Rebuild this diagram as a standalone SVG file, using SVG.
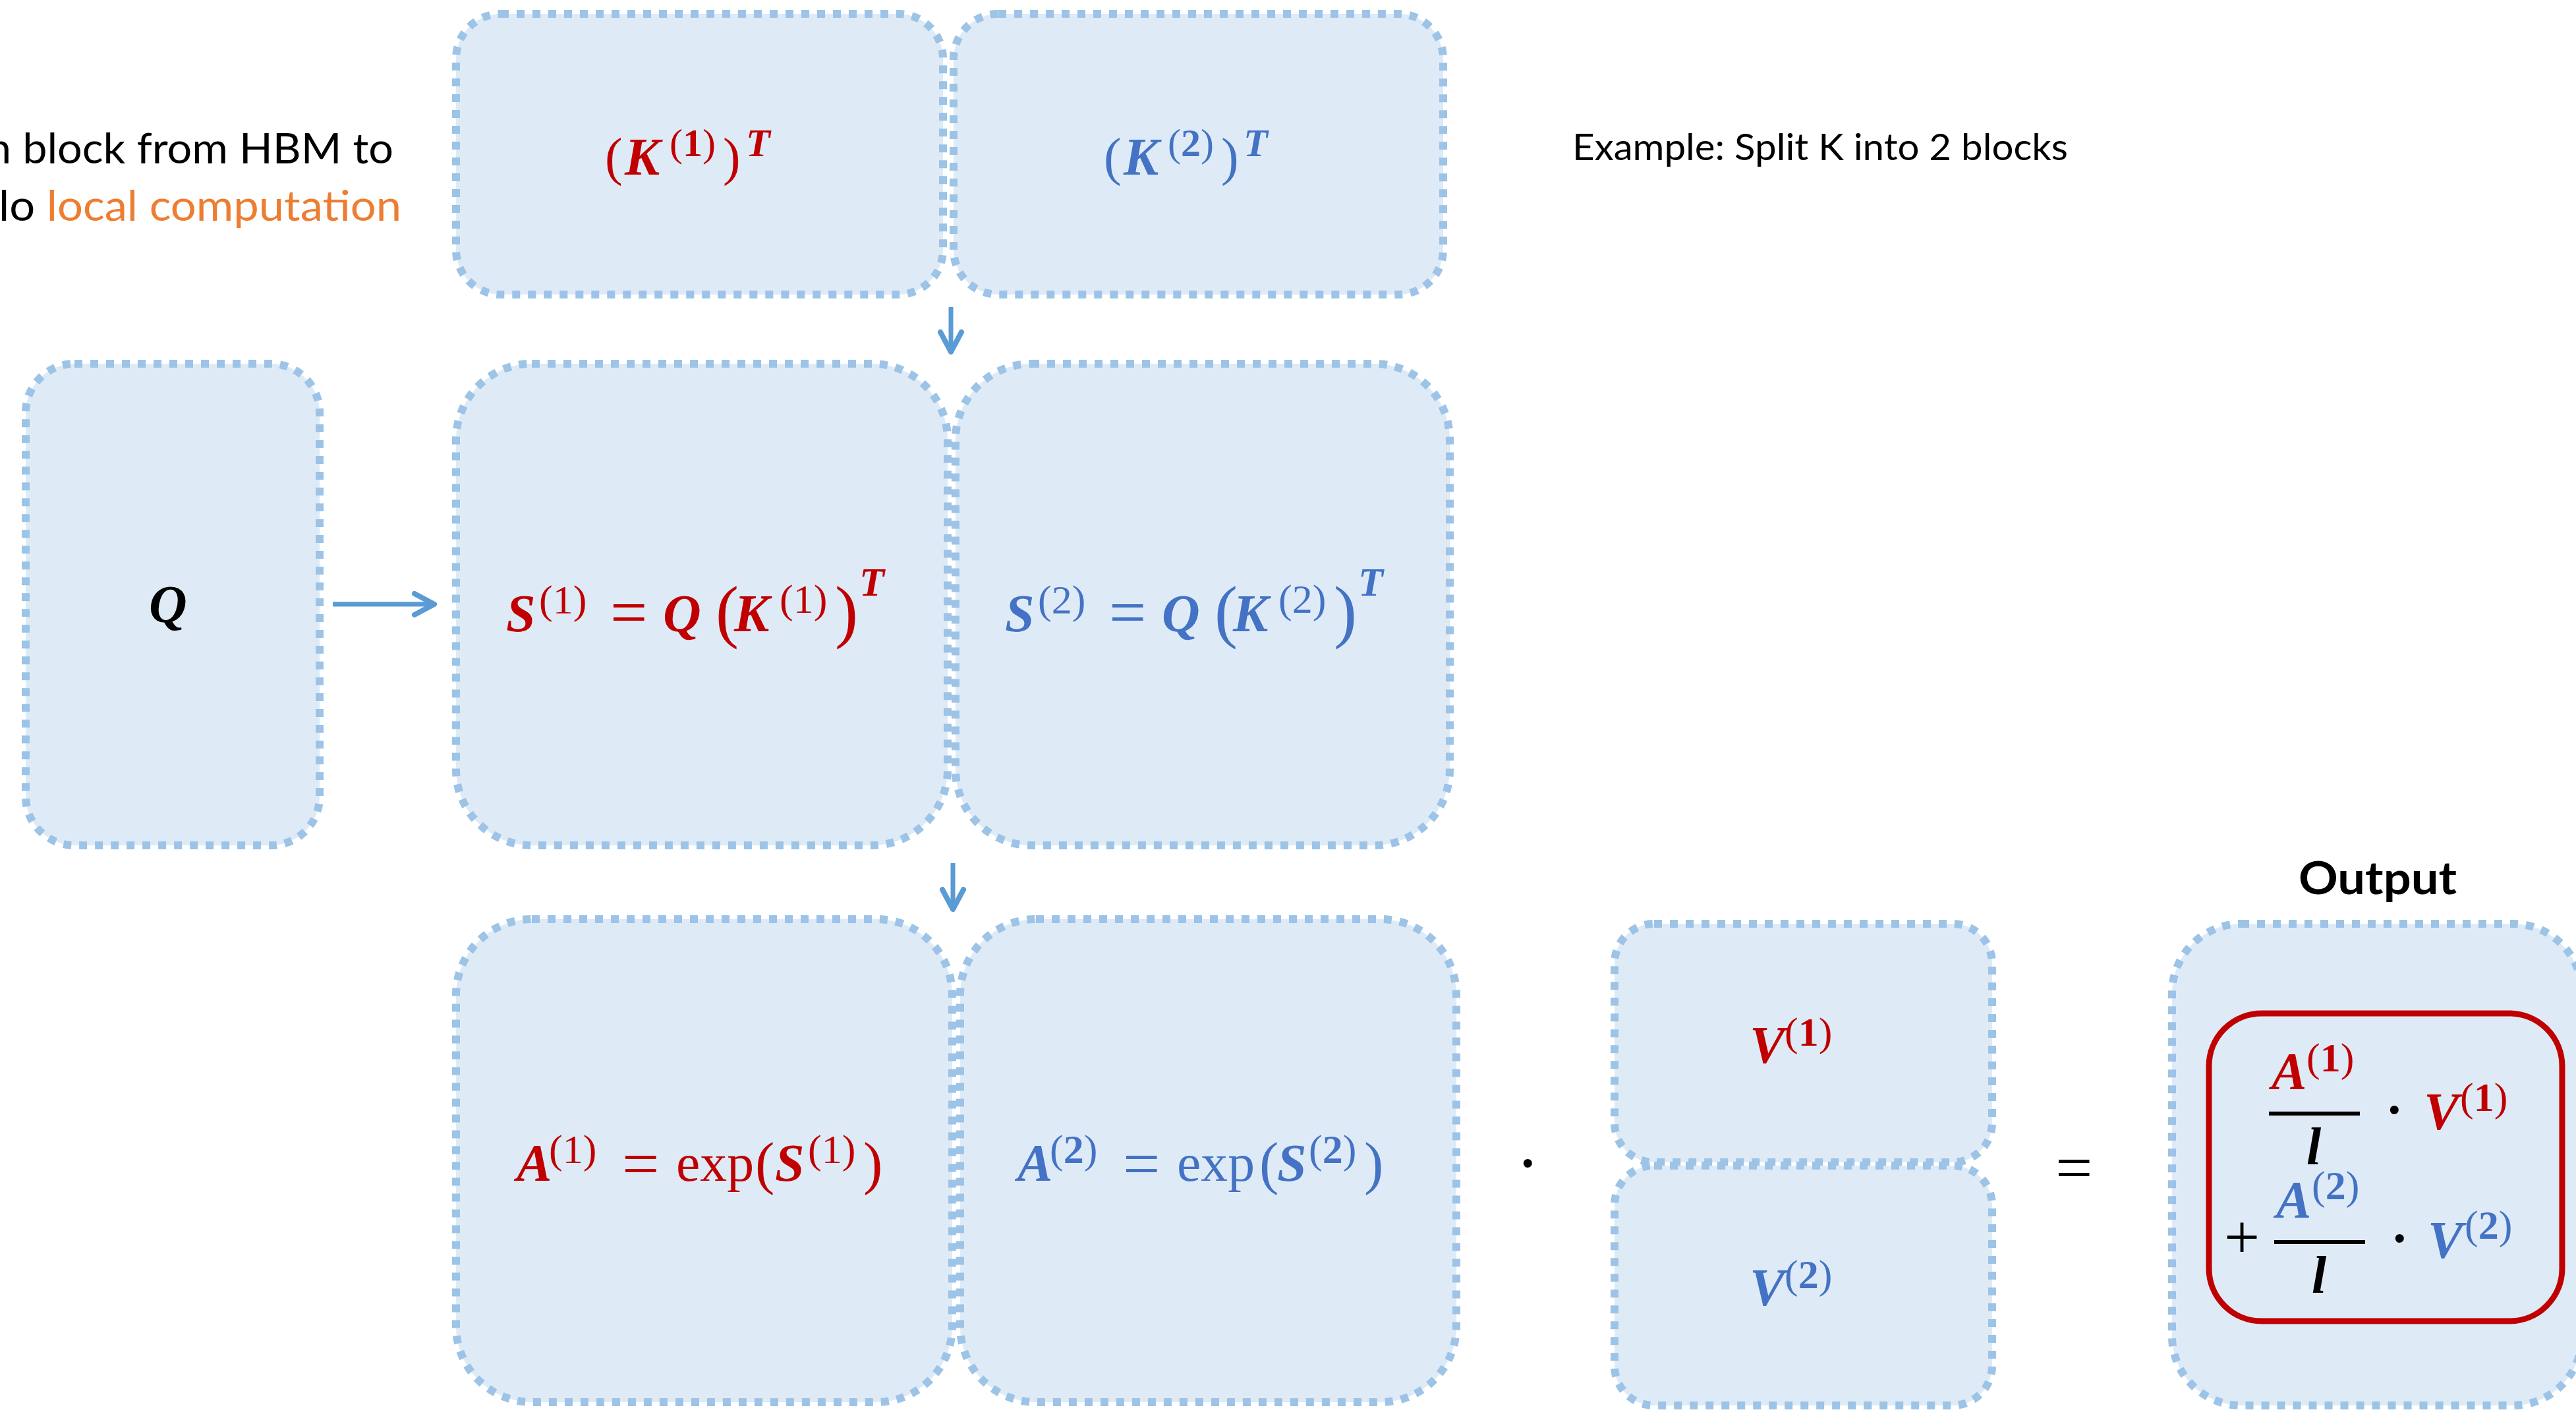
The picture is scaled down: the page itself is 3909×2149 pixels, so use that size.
<svg xmlns="http://www.w3.org/2000/svg" width="3909" height="2149" viewBox="0 0 3909 2149">
<style>
.box{fill:#DEEBF7;stroke:#9DC3E6;stroke-width:12;stroke-dasharray:12 12;}
.lbl{font-family:Lato,"Open Sans","Liberation Sans",sans-serif;fill:#000;}
.m{font-family:"Liberation Serif","DejaVu Serif",serif;}
.bi{font-weight:bold;font-style:italic;}
.b{font-weight:bold;}
.red{fill:#C00000;}
.blue{fill:#4472C4;}
.blk{fill:#000;}
.conn{stroke:#5B9BD5;stroke-width:7;fill:none;stroke-linecap:butt;}
.bar{stroke:#000;stroke-width:6;}
</style>
<defs>
<marker id="ah" markerUnits="userSpaceOnUse" markerWidth="50" markerHeight="50" viewBox="-40 -25 50 50" refX="0" refY="0" orient="auto">
<path d="M-30,-16 L0,0 L-30,16" fill="none" stroke="#5B9BD5" stroke-width="8" stroke-linecap="round" stroke-linejoin="round"/>
</marker>
</defs>

<text class="lbl" font-size="64" x="-20" y="248" textLength="617" lengthAdjust="spacingAndGlyphs">n block from HBM to</text>
<text class="lbl" font-size="64" x="-2" y="335" textLength="611" lengthAdjust="spacingAndGlyphs">lo <tspan fill="#ED7D31">local computation</tspan></text>
<text class="lbl" font-size="56" x="2386" y="243" textLength="752" lengthAdjust="spacingAndGlyphs">Example: Split K into 2 blocks</text>
<text class="lbl" font-size="68" font-weight="bold" x="3488" y="1357" textLength="240" lengthAdjust="spacingAndGlyphs">Output</text>

<g id="node-K1">
<rect class="box" x="692" y="21" width="739" height="426" rx="68"/>
<text class="m red" font-size="80"><tspan x="918" y="265">(</tspan><tspan class="bi" x="948">K</tspan><tspan x="1016" y="237" font-size="60">(<tspan class="b">1</tspan>)</tspan><tspan x="1097" y="265">)</tspan><tspan class="bi" x="1132" y="237" font-size="60">T</tspan></text>
</g>
<g id="node-K2">
<rect class="box" x="1447" y="21" width="743" height="426" rx="68"/>
<text class="m blue" font-size="80"><tspan x="1675" y="265">(</tspan><tspan class="bi" x="1705">K</tspan><tspan x="1772" y="237" font-size="60">(<tspan class="b">2</tspan>)</tspan><tspan x="1853" y="265">)</tspan><tspan class="bi" x="1887" y="237" font-size="60">T</tspan></text>
</g>

<g id="node-Q">
<rect class="box" x="39" y="552" width="446" height="731" rx="74"/>
<text class="m bi blk" font-size="80" x="226" y="944">Q</text>
</g>

<g id="node-S1">
<rect class="box" x="692" y="552" width="746" height="731" rx="115"/>
<text class="m red" font-size="80"><tspan class="bi" x="768" y="958">S</tspan><tspan x="818" y="931" font-size="62">(1)</tspan><tspan x="926" y="963" font-size="100">=</tspan><tspan class="bi" x="1006" y="958">Q</tspan><tspan x="1086" y="963" font-size="105">(</tspan><tspan class="bi" x="1114" y="958">K</tspan><tspan x="1183" y="930" font-size="62">(1)</tspan><tspan x="1267" y="963" font-size="105">)</tspan><tspan class="bi" x="1304" y="904" font-size="62">T</tspan></text>
</g>
<g id="node-S2">
<rect class="box" x="1450" y="552" width="750" height="731" rx="115"/>
<text class="m blue" font-size="80"><tspan class="bi" x="1525" y="958">S</tspan><tspan x="1575" y="931" font-size="62">(2)</tspan><tspan x="1683" y="963" font-size="100">=</tspan><tspan class="bi" x="1763" y="958">Q</tspan><tspan x="1843" y="963" font-size="105">(</tspan><tspan class="bi" x="1871" y="958">K</tspan><tspan x="1940" y="930" font-size="62">(2)</tspan><tspan x="2024" y="963" font-size="105">)</tspan><tspan class="bi" x="2061" y="904" font-size="62">T</tspan></text>
</g>

<g id="node-A1">
<rect class="box" x="692" y="1395" width="753" height="733" rx="115"/>
<text class="m red" font-size="80"><tspan class="bi" x="784" y="1792">A</tspan><tspan x="833" y="1765" font-size="62">(1)</tspan><tspan x="944" y="1800" font-size="100">=</tspan><tspan x="1026" y="1792" textLength="118" lengthAdjust="spacingAndGlyphs">exp</tspan><tspan x="1146" y="1795" font-size="88">(</tspan><tspan class="bi" x="1176" y="1792">S</tspan><tspan x="1226" y="1765" font-size="62">(1)</tspan><tspan x="1310" y="1795" font-size="88">)</tspan></text>
</g>
<g id="node-A2">
<rect class="box" x="1457" y="1395" width="753" height="733" rx="115"/>
<text class="m blue" font-size="80"><tspan class="bi" x="1544" y="1792">A</tspan><tspan x="1593" y="1765" font-size="62">(<tspan class="b">2</tspan>)</tspan><tspan x="1704" y="1800" font-size="100">=</tspan><tspan x="1786" y="1792" textLength="118" lengthAdjust="spacingAndGlyphs">exp</tspan><tspan x="1911" y="1795" font-size="88">(</tspan><tspan class="bi" x="1938" y="1792">S</tspan><tspan x="1986" y="1765" font-size="62">(<tspan class="b">2</tspan>)</tspan><tspan x="2070" y="1795" font-size="88">)</tspan></text>
</g>

<text class="m b blk" font-size="80" x="2305" y="1792">·</text>

<g id="node-V1">
<rect class="box" x="2450" y="1402" width="573" height="362" rx="60"/>
<text class="m red" font-size="80"><tspan class="bi" x="2655" y="1613">V</tspan><tspan x="2708" y="1587" font-size="62">(<tspan class="b">1</tspan>)</tspan></text>
</g>
<g id="node-V2">
<rect class="box" x="2450" y="1769" width="573" height="364" rx="60"/>
<text class="m blue" font-size="80"><tspan class="bi" x="2655" y="1981">V</tspan><tspan x="2708" y="1955" font-size="62">(<tspan class="b">2</tspan>)</tspan></text>
</g>

<text class="m blk" font-size="100" x="3119" y="1806">=</text>

<g id="node-Output">
<rect class="box" x="3296" y="1402" width="622" height="731" rx="105"/>
<rect x="3352" y="1538" width="536" height="467" rx="80" fill="none" stroke="#C00000" stroke-width="9"/>
<text class="m red" font-size="80"><tspan class="bi" x="3447" y="1653">A</tspan><tspan x="3500" y="1626" font-size="62">(<tspan class="b">1</tspan>)</tspan></text>
<line class="bar" x1="3443" y1="1690" x2="3581" y2="1690"/>
<text class="m bi blk" font-size="80" x="3500" y="1767">l</text>
<text class="m b blk" font-size="80" x="3620" y="1711">·</text>
<text class="m red" font-size="80"><tspan class="bi" x="3678" y="1714">V</tspan><tspan x="3733" y="1686" font-size="62">(<tspan class="b">1</tspan>)</tspan></text>
<text class="m blk" font-size="96" x="3375" y="1909">+</text>
<text class="m blue" font-size="80"><tspan class="bi" x="3454" y="1848">A</tspan><tspan x="3508" y="1820" font-size="62">(<tspan class="b">2</tspan>)</tspan></text>
<line class="bar" x1="3451" y1="1885" x2="3589" y2="1885"/>
<text class="m bi blk" font-size="80" x="3508" y="1962">l</text>
<text class="m b blk" font-size="80" x="3628" y="1906">·</text>
<text class="m blue" font-size="80"><tspan class="bi" x="3684" y="1909">V</tspan><tspan x="3740" y="1880" font-size="62">(<tspan class="b">2</tspan>)</tspan></text>
</g>

<g id="connectors">
<line class="conn" x1="505" y1="917" x2="659" y2="917" marker-end="url(#ah)"/>
<line class="conn" x1="1443" y1="466" x2="1443" y2="534" marker-end="url(#ah)"/>
<line class="conn" x1="1446" y1="1310" x2="1446" y2="1380" marker-end="url(#ah)"/>
</g>
</svg>
